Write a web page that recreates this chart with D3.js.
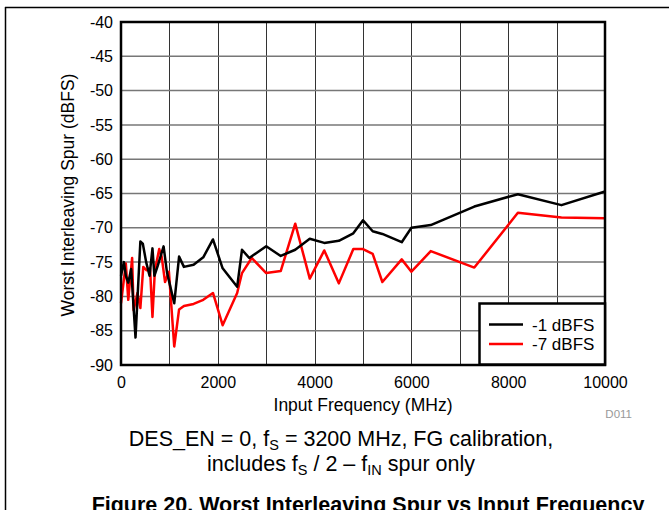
<!DOCTYPE html>
<html>
<head>
<meta charset="utf-8">
<script src="https://cdn.jsdelivr.net/npm/d3@7"></script>
<style>
  body { margin: 0; background: #fff; }
  svg { display: block; font-family: "Liberation Sans", Arial, sans-serif; }
</style>
</head>
<body>
<svg id="chart" width="669" height="510"></svg>
<script>
// input frequency (MHz) and worst spur (dBFS)
var freq1 = [0, 60, 100, 150, 210, 300, 400, 450, 520, 590, 650, 690, 760, 880, 950, 1100, 1200, 1300, 1500, 1700, 1900, 2100, 2400, 2500, 2650, 3000, 3300, 3600, 3900, 4200, 4500, 4800, 5000, 5200, 5400, 5800, 6000, 6400, 7300, 8200, 9100, 10000];
var spur1 = [-77, -75, -77, -78, -76, -86, -72, -72.3, -75, -77, -73, -77, -75.5, -72.7, -76.5, -81, -74.2, -75.7, -75.4, -74.3, -71.7, -75.9, -78.6, -73.2, -74.4, -72.7, -74.1, -73.2, -71.6, -72.2, -71.9, -70.8, -68.9, -70.5, -70.9, -72.1, -70, -69.6, -66.9, -65.1, -66.7, -64.7];
var freq7 = [0, 100, 150, 230, 260, 340, 400, 460, 530, 600, 650, 700, 790, 840, 910, 990, 1100, 1200, 1300, 1500, 1700, 1900, 2100, 2400, 2500, 2700, 3000, 3300, 3600, 3900, 4200, 4500, 4800, 5000, 5200, 5400, 5800, 6000, 6400, 7300, 8200, 9100, 10000];
var spur7 = [-81, -75.2, -80.5, -74.4, -82, -79.5, -81.7, -75.7, -76.2, -75.9, -83, -76.2, -73.1, -74.2, -77.9, -76.4, -87.3, -81.9, -81.4, -81.1, -80.5, -79.5, -84.2, -79.5, -76.6, -74.4, -76.6, -76.3, -69.4, -77.4, -73.3, -78.1, -73.1, -73.1, -73.8, -77.9, -74.6, -76.4, -73.4, -75.8, -67.8, -68.5, -68.6];
var seriesNames = ['-1 dBFS', '-7 dBFS'];
var xTicks = [0, 2000, 4000, 6000, 8000, 10000];
var yTicks = [-40, -45, -50, -55, -60, -65, -70, -75, -80, -85, -90];

var svg = d3.select('#chart');
var plotLeft = 121, plotRight = 605, plotTop = 22, plotBottom = 365;

var x = d3.scaleLinear().domain([0, 10000]).range([plotLeft, plotRight]);
var y = d3.scaleLinear().domain([-90, -40]).range([plotBottom, plotTop]);

// page frame
svg.append('line').attr('x1', 5).attr('x2', 669).attr('y1', 7.5).attr('y2', 7.5)
    .attr('stroke', '#000').attr('stroke-width', 1.5);
svg.append('line').attr('x1', 5.5).attr('x2', 5.5).attr('y1', 7).attr('y2', 510)
    .attr('stroke', '#000').attr('stroke-width', 1.5);

// grid
svg.append('g').selectAll('line')
    .data(d3.range(1000, 10000, 1000))
    .enter().append('line')
    .attr('x1', function (d) { return Math.round(x(d)) + 0.5; })
    .attr('x2', function (d) { return Math.round(x(d)) + 0.5; })
    .attr('y1', plotTop).attr('y2', plotBottom)
    .attr('stroke', '#333').attr('stroke-width', 1);
svg.append('g').selectAll('line')
    .data(yTicks.slice(1, -1))
    .enter().append('line')
    .attr('x1', plotLeft).attr('x2', plotRight)
    .attr('y1', function (d) { return y(d); })
    .attr('y2', function (d) { return y(d); })
    .attr('stroke', '#777').attr('stroke-width', 1.5);

// axes (labels only, ticks hidden); plain hyphen for negatives like the original
var xAxis = d3.axisBottom(x).tickValues(xTicks).tickSize(0).tickPadding(12).tickFormat(String);
var yAxis = d3.axisLeft(y).tickValues(yTicks).tickSize(0).tickPadding(8).tickFormat(String);
var gx = svg.append('g').attr('transform', 'translate(0,' + plotBottom + ')').call(xAxis);
var gy = svg.append('g').attr('transform', 'translate(' + plotLeft + ',0)').call(yAxis);
[gx, gy].forEach(function (g) {
    g.select('.domain').remove();
    g.selectAll('text').attr('font-size', 16).attr('fill', '#000')
        .attr('font-family', '"Liberation Sans", Arial, sans-serif');
});

// series
var line = d3.line().x(function (d) { return x(d[0]); }).y(function (d) { return y(d[1]); });
svg.append('path').datum(d3.zip(freq7, spur7)).attr('d', line)
    .attr('fill', 'none').attr('stroke', '#ff0000').attr('stroke-width', 2.5).attr('stroke-linejoin', 'round');
svg.append('path').datum(d3.zip(freq1, spur1)).attr('d', line)
    .attr('fill', 'none').attr('stroke', '#000').attr('stroke-width', 2.5).attr('stroke-linejoin', 'round');

// plot border
svg.append('rect').attr('x', plotLeft).attr('y', plotTop)
    .attr('width', plotRight - plotLeft).attr('height', plotBottom - plotTop)
    .attr('fill', 'none').attr('stroke', '#000').attr('stroke-width', 2.5);

// legend
var lg = svg.append('g');
lg.append('rect').attr('x', 479.5).attr('y', 303.5).attr('width', 125.5).attr('height', 61)
    .attr('fill', '#fff').attr('stroke', '#000').attr('stroke-width', 2.5);
var colors = ['#000', '#ff0000'];
seriesNames.forEach(function (name, i) {
    var ly = 324.5 + i * 19.5;
    lg.append('line').attr('x1', 489).attr('x2', 523).attr('y1', ly).attr('y2', ly)
        .attr('stroke', colors[i]).attr('stroke-width', 2.5);
    lg.append('text').attr('x', 532).attr('y', ly + 6).attr('font-size', 17).text(name);
});

// axis titles
svg.append('text').attr('x', (plotLeft + plotRight) / 2).attr('y', 411).attr('text-anchor', 'middle')
    .attr('font-size', 17.5).text('Input Frequency (MHz)');
svg.append('text').attr('transform', 'translate(74,195) rotate(-90)')
    .attr('text-anchor', 'middle').attr('font-size', 17.5).text('Worst Interleaving Spur (dBFS)');
svg.append('text').attr('x', 632).attr('y', 418).attr('text-anchor', 'end')
    .attr('font-size', 11.5).attr('fill', '#999').text('D011');

// caption
var c1 = svg.append('text').attr('x', 341).attr('y', 446).attr('text-anchor', 'middle').attr('font-size', 21.5);
c1.append('tspan').text('DES_EN = 0, f');
c1.append('tspan').attr('font-size', 14.5).attr('dy', 4).text('S');
c1.append('tspan').attr('dy', -4).text(' = 3200 MHz, FG calibration,');
var c2 = svg.append('text').attr('x', 341).attr('y', 471).attr('text-anchor', 'middle').attr('font-size', 21.5);
c2.append('tspan').text('includes f');
c2.append('tspan').attr('font-size', 14.5).attr('dy', 4).text('S');
c2.append('tspan').attr('dy', -4).text(' / 2 \u2013 f');
c2.append('tspan').attr('font-size', 14.5).attr('dy', 4).text('IN');
c2.append('tspan').attr('dy', -4).text(' spur only');
svg.append('text').attr('x', 368).attr('y', 512).attr('text-anchor', 'middle')
    .attr('font-size', 21.5).attr('font-weight', 'bold')
    .text('Figure 20. Worst Interleaving Spur vs Input Frequency');
</script>
</body>
</html>
